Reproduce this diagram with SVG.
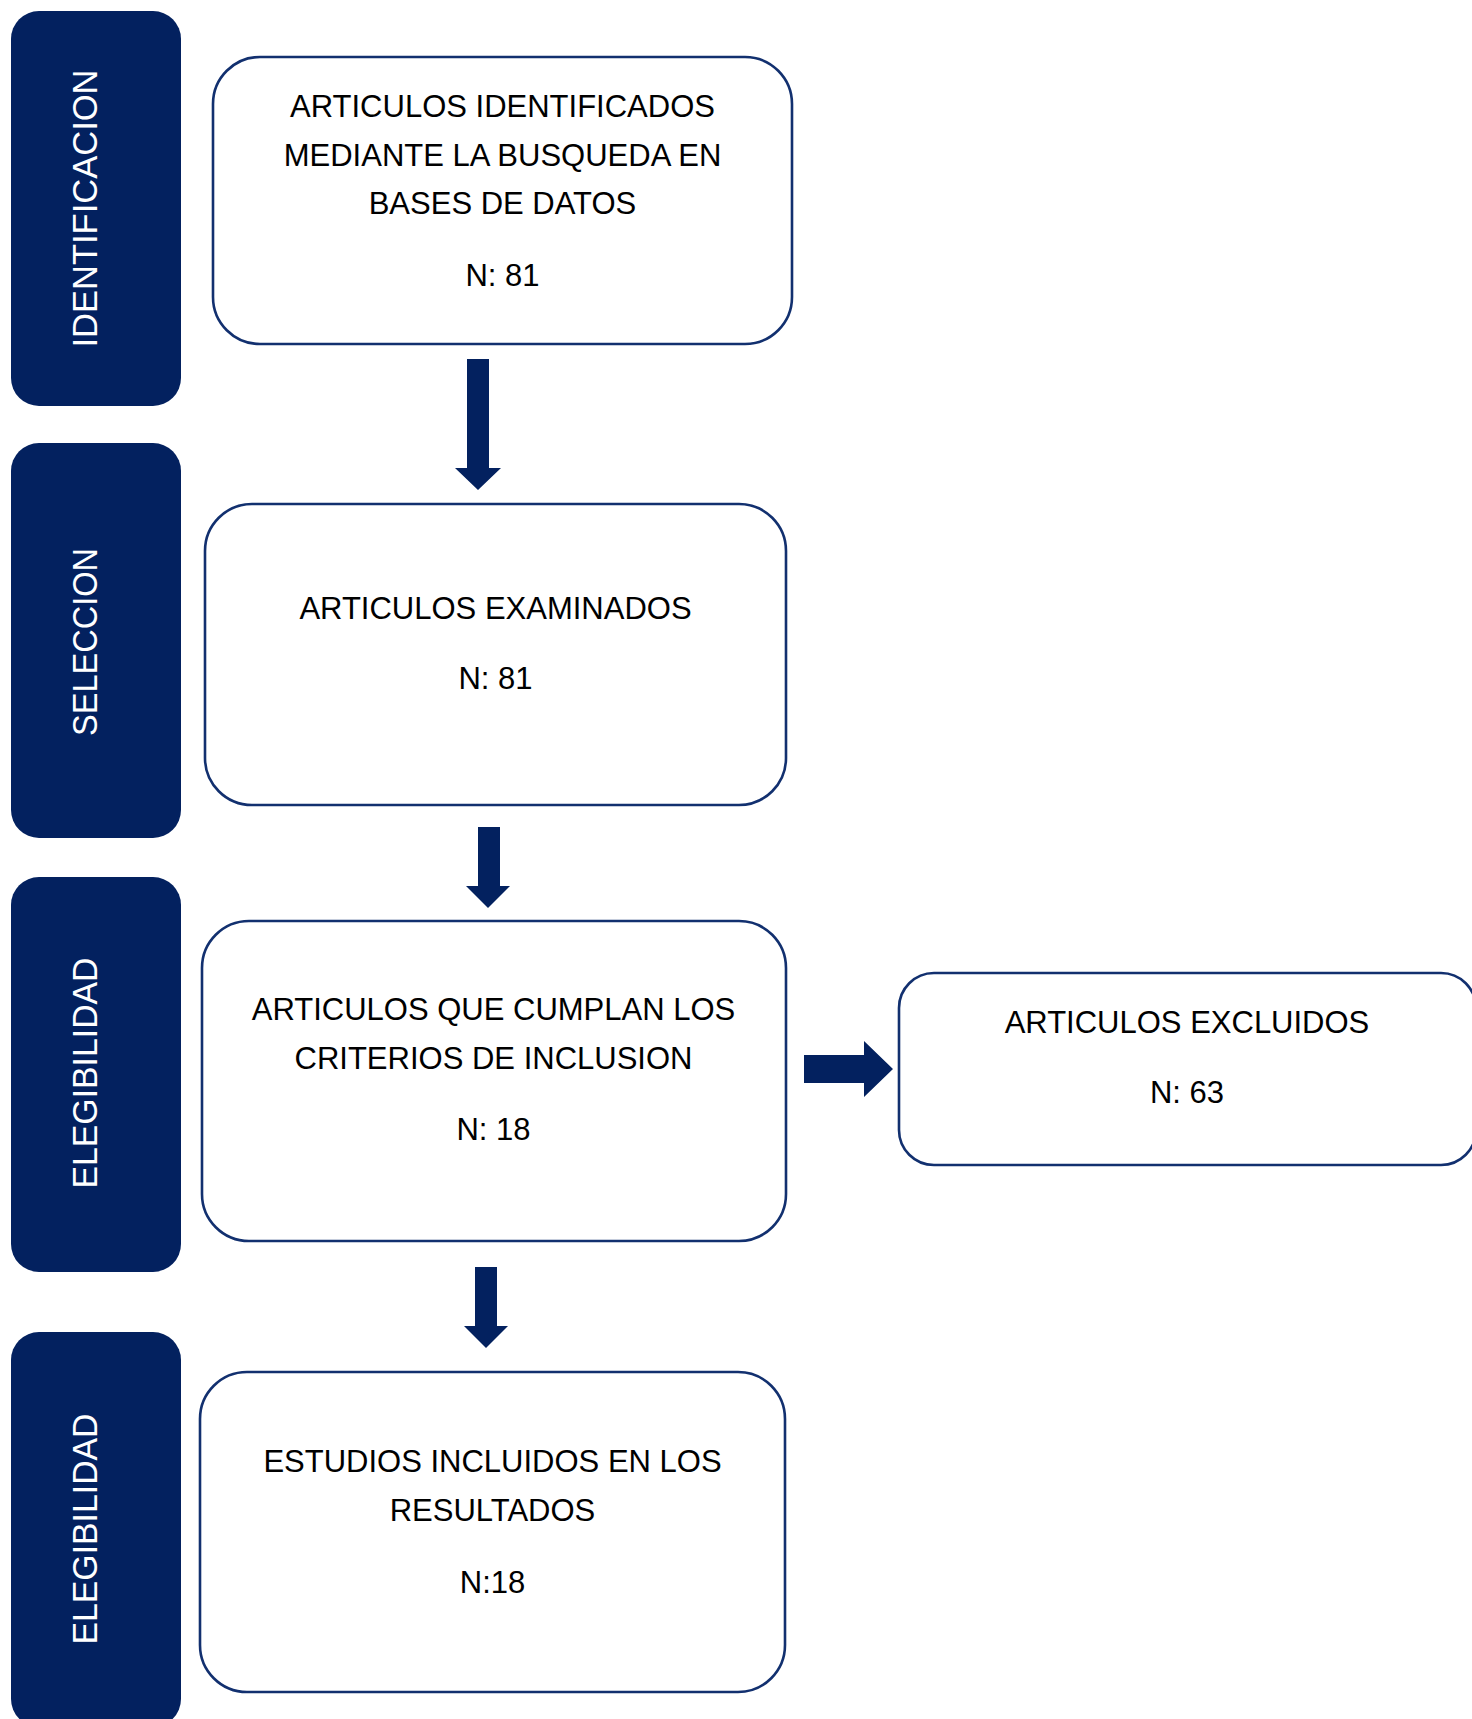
<svg xmlns="http://www.w3.org/2000/svg" width="1472" height="1719" viewBox="0 0 1472 1719">
<style>
.side{fill:#03215F;}
.stxt{fill:#ffffff;font-family:"Liberation Sans",Arial,sans-serif;font-size:35px;text-anchor:middle;}
.box{fill:#ffffff;stroke:#12306F;stroke-width:2.6;}
.btxt{fill:#000000;font-family:"Liberation Sans",Arial,sans-serif;font-size:31px;text-anchor:middle;}
.arr{fill:#03215F;}
</style>
<rect width="1472" height="1719" fill="#ffffff"/>
<g id="stage-identificacion">
<rect class="side" x="11" y="11" width="170" height="395" rx="28"/>
<text class="stxt" transform="translate(97,208.5) rotate(-90)" textLength="278" lengthAdjust="spacingAndGlyphs">IDENTIFICACION</text>
</g>
<g id="stage-seleccion">
<rect class="side" x="11" y="443" width="170" height="395" rx="28"/>
<text class="stxt" transform="translate(97,642) rotate(-90)" textLength="188" lengthAdjust="spacingAndGlyphs">SELECCION</text>
</g>
<g id="stage-elegibilidad-1">
<rect class="side" x="11" y="877" width="170" height="395" rx="28"/>
<text class="stxt" transform="translate(97,1073) rotate(-90)" textLength="231" lengthAdjust="spacingAndGlyphs">ELEGIBILIDAD</text>
</g>
<g id="stage-elegibilidad-2">
<rect class="side" x="11" y="1332" width="170" height="395" rx="28"/>
<text class="stxt" transform="translate(97,1529) rotate(-90)" textLength="231" lengthAdjust="spacingAndGlyphs">ELEGIBILIDAD</text>
</g>
<g id="node-identificados">
<rect class="box" x="213" y="57" width="579" height="287" rx="47"/>
<text class="btxt" x="502.5" y="117">ARTICULOS IDENTIFICADOS</text>
<text class="btxt" x="502.5" y="166">MEDIANTE LA BUSQUEDA EN</text>
<text class="btxt" x="502.5" y="214">BASES DE DATOS</text>
<text class="btxt" x="502.5" y="286">N: 81</text>
</g>
<g id="node-examinados">
<rect class="box" x="205" y="504" width="581" height="301" rx="47"/>
<text class="btxt" x="495.5" y="619">ARTICULOS EXAMINADOS</text>
<text class="btxt" x="495.5" y="689">N: 81</text>
</g>
<g id="node-criterios">
<rect class="box" x="202" y="921" width="584" height="320" rx="47"/>
<text class="btxt" x="493.5" y="1020">ARTICULOS QUE CUMPLAN LOS</text>
<text class="btxt" x="493.5" y="1069">CRITERIOS DE INCLUSION</text>
<text class="btxt" x="493.5" y="1140">N: 18</text>
</g>
<g id="node-excluidos">
<rect class="box" x="899" y="973" width="577" height="192" rx="35"/>
<text class="btxt" x="1187" y="1033">ARTICULOS EXCLUIDOS</text>
<text class="btxt" x="1187" y="1103">N: 63</text>
</g>
<g id="node-incluidos">
<rect class="box" x="200" y="1372" width="585" height="320" rx="47"/>
<text class="btxt" x="492.5" y="1472">ESTUDIOS INCLUIDOS EN LOS</text>
<text class="btxt" x="492.5" y="1521">RESULTADOS</text>
<text class="btxt" x="492.5" y="1593">N:18</text>
</g>
<g id="connectors">
<polygon class="arr" points="467,359 489,359 489,468 501,468 478,490 455,468 467,468"/>
<polygon class="arr" points="478,827 500,827 500,886 510,886 488,908 466,886 478,886"/>
<polygon class="arr" points="475,1267 497,1267 497,1326 508,1326 486,1348 464,1326 475,1326"/>
<polygon class="arr" points="804,1055 864,1055 864,1041 893,1069 864,1097 864,1083 804,1083"/>
</g>
</svg>
